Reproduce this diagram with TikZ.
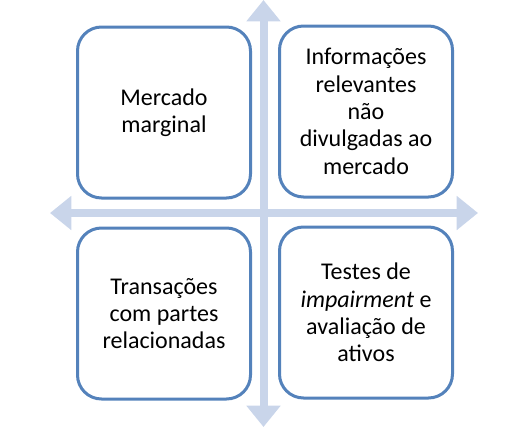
\documentclass[tikz,border=0pt]{standalone}
\usepackage{fontspec}
\setmainfont{Carlito}
\usetikzlibrary{arrows.meta}
\definecolor{boxblue}{RGB}{84,130,187}
\definecolor{arrowblue}{RGB}{201,213,234}
\begin{document}
\begin{tikzpicture}[x=0.75pt,y=-0.75pt,
  quad/.style={draw=boxblue, line width=2.25pt, fill=white, rounded corners=18pt,
    minimum width=129.75pt, minimum height=128.25pt, align=center,
    font=\fontsize{18}{20.5}\selectfont, inner sep=0pt},
  crossarrow/.style={draw=arrowblue, line width=6pt,
    {Triangle[width=24.75pt,length=16pt]}-{Triangle[width=24.75pt,length=16pt]}}]
\useasboundingbox (0,0) rectangle (511,429);
\coordinate (top) at (263.5,0);
\coordinate (bot) at (263.5,427);
\coordinate (lft) at (50,213);
\coordinate (rgt) at (478,213);
\draw[crossarrow] (top) -- (bot);
\draw[crossarrow] (lft) -- (rgt);
\node[quad] (tl) at (164,112.5) {Mercado\\marginal};
\node[quad] (tr) at (366,111.5) {Informações\\relevantes\\não\\divulgadas ao\\mercado};
\node[quad] (bl) at (164,313.5) {Transações\\com partes\\relacionadas};
\node[quad] (br) at (366,312.5) {Testes de\\\textit{impairment} e\\avaliação de\\ativos};
\end{tikzpicture}
\end{document}
